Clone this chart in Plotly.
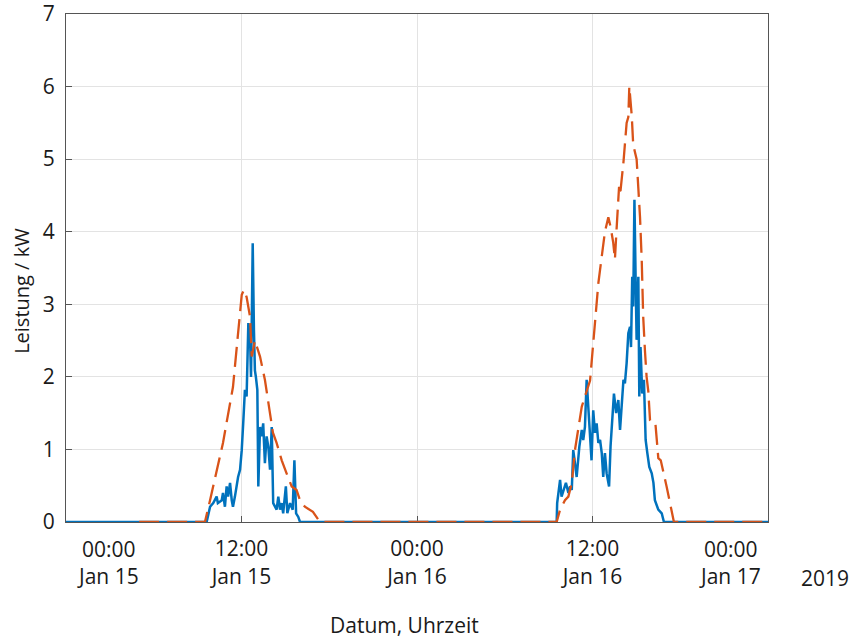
import plotly.graph_objects as go

# ---- measured (blue, solid) ----
blue_time = [
    "2019-01-15 00:00", "2019-01-15 09:37", "2019-01-15 09:51", "2019-01-15 10:04", "2019-01-15 10:18",
    "2019-01-15 10:23", "2019-01-15 10:39", "2019-01-15 10:44", "2019-01-15 10:52", "2019-01-15 10:59",
    "2019-01-15 11:05", "2019-01-15 11:13", "2019-01-15 11:20", "2019-01-15 11:25", "2019-01-15 11:33",
    "2019-01-15 11:46", "2019-01-15 11:54", "2019-01-15 12:01", "2019-01-15 12:07", "2019-01-15 12:14",
    "2019-01-15 12:21", "2019-01-15 12:28", "2019-01-15 12:35", "2019-01-15 12:39", "2019-01-15 12:42",
    "2019-01-15 12:46", "2019-01-15 12:51", "2019-01-15 12:55", "2019-01-15 12:59", "2019-01-15 13:05",
    "2019-01-15 13:09", "2019-01-15 13:16", "2019-01-15 13:23", "2019-01-15 13:29", "2019-01-15 13:36",
    "2019-01-15 13:43", "2019-01-15 13:50", "2019-01-15 13:57", "2019-01-15 14:04", "2019-01-15 14:10",
    "2019-01-15 14:24", "2019-01-15 14:31", "2019-01-15 14:38", "2019-01-15 14:45", "2019-01-15 14:51",
    "2019-01-15 15:02", "2019-01-15 15:08", "2019-01-15 15:19", "2019-01-15 15:30", "2019-01-15 15:37",
    "2019-01-15 15:44", "2019-01-15 15:53", "2019-01-15 16:00",
    "2019-01-16 09:33", "2019-01-16 09:35", "2019-01-16 09:47", "2019-01-16 09:53", "2019-01-16 10:03",
    "2019-01-16 10:11", "2019-01-16 10:21", "2019-01-16 10:28", "2019-01-16 10:35", "2019-01-16 10:41",
    "2019-01-16 10:48", "2019-01-16 10:55", "2019-01-16 11:06", "2019-01-16 11:16", "2019-01-16 11:22",
    "2019-01-16 11:29", "2019-01-16 11:36", "2019-01-16 11:43", "2019-01-16 11:50", "2019-01-16 11:56",
    "2019-01-16 12:03", "2019-01-16 12:10", "2019-01-16 12:17", "2019-01-16 12:24", "2019-01-16 12:31",
    "2019-01-16 12:38", "2019-01-16 12:44", "2019-01-16 12:51", "2019-01-16 12:58", "2019-01-16 13:08",
    "2019-01-16 13:14", "2019-01-16 13:23", "2019-01-16 13:28", "2019-01-16 13:37", "2019-01-16 13:46",
    "2019-01-16 13:53", "2019-01-16 14:00", "2019-01-16 14:07", "2019-01-16 14:13", "2019-01-16 14:20",
    "2019-01-16 14:27", "2019-01-16 14:34", "2019-01-16 14:38", "2019-01-16 14:43", "2019-01-16 14:47",
    "2019-01-16 14:52", "2019-01-16 14:57", "2019-01-16 15:01", "2019-01-16 15:08", "2019-01-16 15:12",
    "2019-01-16 15:17", "2019-01-16 15:24", "2019-01-16 15:31", "2019-01-16 15:38", "2019-01-16 15:45",
    "2019-01-16 15:53", "2019-01-16 16:03", "2019-01-16 16:10", "2019-01-16 16:16", "2019-01-16 16:30",
    "2019-01-16 16:44", "2019-01-16 16:53", "2019-01-17 00:00",
]
blue_kw = [
    0, 0, 0.21, 0.26, 0.35,
    0.26, 0.30, 0.40, 0.21, 0.49,
    0.35, 0.54, 0.30, 0.21, 0.35,
    0.62, 0.72, 0.99, 1.36, 1.82,
    1.73, 2.74, 2.55, 2.00, 2.74,
    3.84, 2.65, 2.09, 2.00, 1.82,
    0.49, 1.31, 1.18, 1.36, 0.81,
    1.18, 1.04, 0.72, 1.31, 0.26,
    0.17, 0.35, 0.17, 0.26, 0.12,
    0.49, 0.12, 0.26, 0.17, 0.85,
    0.12, 0.07, 0,
    0, 0.26, 0.58, 0.35, 0.44,
    0.54, 0.40, 0.49, 0.44, 0.99,
    0.81, 0.62, 1.04, 1.27, 1.13,
    1.31, 1.96, 1.54, 1.13, 0.85,
    1.54, 1.23, 1.36, 1.09, 1.13,
    0.95, 0.62, 0.95, 0.67, 0.49,
    1.04, 1.54, 1.77, 1.50, 1.68,
    1.27, 1.59, 1.96, 1.91, 2.19,
    2.60, 2.69, 2.41, 3.38, 2.97,
    4.44, 3.33, 2.51, 3.38, 1.73,
    2.41, 1.77, 1.96, 1.13, 0.95,
    0.76, 0.67, 0.54, 0.30, 0.17,
    0.12, 0, 0,
]

# ---- forecast (orange, dashed) ----
orange_time = [
    "2019-01-15 05:00", "2019-01-15 09:30", "2019-01-15 09:51", "2019-01-15 10:44", "2019-01-15 11:25",
    "2019-01-15 11:46", "2019-01-15 12:01", "2019-01-15 12:10", "2019-01-15 12:21", "2019-01-15 12:35",
    "2019-01-15 12:42", "2019-01-15 12:55", "2019-01-15 13:16", "2019-01-15 13:36", "2019-01-15 14:09",
    "2019-01-15 14:24", "2019-01-15 14:45", "2019-01-15 15:05", "2019-01-15 15:26", "2019-01-15 15:46",
    "2019-01-15 16:00", "2019-01-15 16:20", "2019-01-15 16:53", "2019-01-15 17:22",
    "2019-01-16 09:33", "2019-01-16 09:47", "2019-01-16 10:07", "2019-01-16 10:21", "2019-01-16 10:35",
    "2019-01-16 10:48", "2019-01-16 11:16", "2019-01-16 11:50", "2019-01-16 12:10", "2019-01-16 12:24",
    "2019-01-16 12:38", "2019-01-16 12:51", "2019-01-16 13:05", "2019-01-16 13:14", "2019-01-16 13:25",
    "2019-01-16 13:32", "2019-01-16 13:39", "2019-01-16 13:49", "2019-01-16 13:53", "2019-01-16 14:00",
    "2019-01-16 14:07", "2019-01-16 14:20", "2019-01-16 14:27", "2019-01-16 14:31", "2019-01-16 14:41",
    "2019-01-16 14:47", "2019-01-16 15:01", "2019-01-16 15:08", "2019-01-16 15:15", "2019-01-16 15:22",
    "2019-01-16 15:28", "2019-01-16 15:35", "2019-01-16 15:42", "2019-01-16 15:49", "2019-01-16 15:56",
    "2019-01-16 16:09", "2019-01-16 16:18", "2019-01-16 16:30", "2019-01-16 16:40", "2019-01-16 17:04",
    "2019-01-16 17:25", "2019-01-16 17:34", "2019-01-17 00:00",
]
orange_kw = [
    0, 0, 0.30, 1.09, 1.86,
    2.65, 3.13, 3.20, 3.10, 2.83,
    2.28, 2.50, 2.28, 1.96, 1.23,
    1.09, 0.85, 0.67, 0.49, 0.44,
    0.30, 0.21, 0.14, 0,
    0, 0.17, 0.30, 0.35, 0.54,
    0.99, 1.59, 1.95, 2.69, 3.29,
    3.66, 4.00, 4.20, 4.07, 3.85,
    3.62, 4.05, 4.62, 4.50, 4.71,
    4.96, 5.50, 5.58, 6.00, 5.60,
    5.20, 5.00, 4.60, 4.20, 3.60,
    2.83, 2.37, 2.00, 1.80, 1.40,
    1.36, 1.36, 0.88, 0.85, 0.49,
    0.17, 0, 0,
]

# ---- axis ticks / labels ----
x_range = ["2019-01-15 00:00", "2019-01-17 00:00"]
x_tickvals = ["2019-01-15 12:00", "2019-01-16 00:00", "2019-01-16 12:00"]
x_ticktext = ["12:00<br>Jan 15", "00:00<br>Jan 16", "12:00<br>Jan 16"]
edge_label_pos = ["2019-01-15 02:52", "2019-01-16 21:24"]
edge_label_text = ["00:00<br>Jan 15", "00:00<br>Jan 17"]
year_label = "2019"
y_tickvals = [0, 1, 2, 3, 4, 5, 6, 7]
x_title = "Datum, Uhrzeit"
y_title = "Leistung / kW"

FONT = "Open Sans"
FS = 21
TXT = "#1a1a1a"
AX = "#555555"
GRID = "#e3e3e3"

fig = go.Figure()
fig.add_trace(go.Scatter(x=blue_time, y=blue_kw, mode="lines",
                         line=dict(color="#0072BD", width=2.5), cliponaxis=False,
                         showlegend=False))
fig.add_trace(go.Scatter(x=orange_time, y=orange_kw, mode="lines",
                         line=dict(color="#D95319", width=2.3, dash="20px,8px"), cliponaxis=False,
                         showlegend=False))

for xv, tx in zip(edge_label_pos, edge_label_text):
    fig.add_annotation(x=xv, y=0, xref="x", yref="y", text=tx, showarrow=False,
                       yanchor="top", xanchor="center", yshift=-11,
                       font=dict(family=FONT, size=FS, color=TXT))
fig.add_annotation(x=1.0, y=0, xref="paper", yref="y", text=year_label, showarrow=False,
                   yanchor="top", xanchor="left", xshift=31, yshift=-40,
                   font=dict(family=FONT, size=FS, color=TXT))
# axis titles
fig.add_annotation(x=0.4815, y=-0.203, xref="paper", yref="paper", text=x_title, showarrow=False,
                   xanchor="center", yanchor="middle",
                   font=dict(family=FONT, size=FS, color=TXT))
fig.add_annotation(x=-0.0627, y=0.455, xref="paper", yref="paper", text=y_title, showarrow=False,
                   textangle=-90, xanchor="center", yanchor="middle",
                   font=dict(family=FONT, size=20, color=TXT))

fig.update_layout(
    width=849, height=639,
    margin=dict(l=66, r=81, t=14, b=117, autoexpand=False),
    paper_bgcolor="white", plot_bgcolor="white",
    font=dict(family=FONT, size=FS, color=TXT),
    xaxis=dict(
        type="date", range=x_range, automargin=False,
        tickvals=x_tickvals, ticktext=x_ticktext,
        tickangle=0, ticklabelstandoff=8,
        showgrid=True, gridcolor=GRID, gridwidth=1,
        showline=True, linecolor=AX, linewidth=1.2, mirror=True,
        ticks="inside", ticklen=6, tickcolor=AX, tickwidth=1.2,
        zeroline=False, layer="below traces",
        tickfont=dict(size=FS),
    ),
    yaxis=dict(
        range=[0, 7], tickvals=y_tickvals, automargin=False,
        ticklabelstandoff=6, ticklabeloverflow="allow",
        showgrid=True, gridcolor=GRID, gridwidth=1,
        showline=True, linecolor=AX, linewidth=1.2, mirror=True,
        ticks="inside", ticklen=6, tickcolor=AX, tickwidth=1.2,
        zeroline=False, layer="below traces",
        tickfont=dict(size=FS),
    ),
)

# remove the default 8px page margin so the 849x639 figure fills the window exactly
fig.write_html("out.html", config={"displayModeBar": False},
               post_script="document.body.style.margin='0';")
